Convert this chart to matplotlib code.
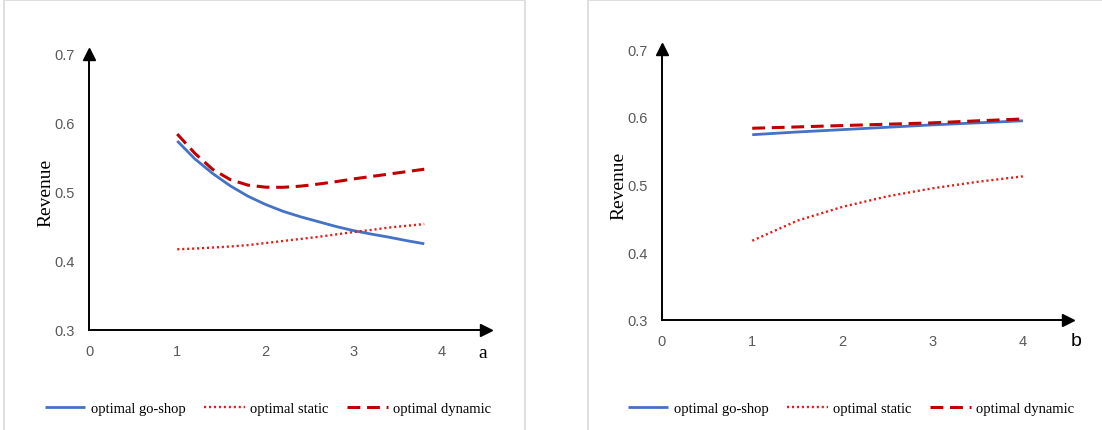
import matplotlib
matplotlib.use("Agg")
import matplotlib.pyplot as plt
from matplotlib.patches import Rectangle

# ---- data ----
a_vals = [1.0, 1.2, 1.4, 1.6, 1.8, 2.0, 2.2, 2.4, 2.6, 2.8, 3.0, 3.2, 3.4, 3.6, 3.8]
a_goshop = [0.574, 0.548, 0.527, 0.509, 0.494, 0.482, 0.472, 0.464, 0.457, 0.450,
            0.444, 0.439, 0.4345, 0.4295, 0.425]
a_static = [0.417, 0.418, 0.4195, 0.421, 0.423, 0.426, 0.429, 0.432, 0.435, 0.4385,
            0.442, 0.445, 0.4485, 0.451, 0.4535]
a_dynamic = [0.584, 0.556, 0.533, 0.518, 0.510, 0.507, 0.5068, 0.5085, 0.5115, 0.515,
             0.519, 0.5225, 0.526, 0.5295, 0.533]

b_vals = [1.0, 1.5, 2.0, 2.5, 3.0, 3.5, 4.0]
b_goshop = [0.5735, 0.5775, 0.581, 0.5845, 0.588, 0.591, 0.594]
b_static = [0.417, 0.4466, 0.467, 0.4826, 0.4944, 0.504, 0.512]
b_dynamic = [0.583, 0.585, 0.587, 0.589, 0.591, 0.594, 0.5967]

x_ticks = [0, 1, 2, 3, 4]
y_ticks = [0.3, 0.4, 0.5, 0.6, 0.7]
series_labels = ["optimal go-shop", "optimal static", "optimal dynamic"]

W, H = 1102, 431
fig = plt.figure(figsize=(W / 100, H / 100), dpi=100)
fig.patch.set_facecolor("white")

# panel borders
fig.add_artist(Rectangle((4 / W, -0.01), (525 - 4) / W, 1.01 - 0.5 / H,
                         transform=fig.transFigure, fill=False,
                         edgecolor="#d9d9d9", linewidth=1.2))
fig.add_artist(Rectangle((588 / W, -0.01), (1120 - 588) / W, 1.01 - 0.5 / H,
                         transform=fig.transFigure, fill=False,
                         edgecolor="#d9d9d9", linewidth=1.2))

BLUE = "#4472C4"
RED = "#C00000"
DOT = "#E0201B"

def make_panel(rect, x, g, s, d, xlabel, xlabel_font, xlab_pos, leg_center):
    ax = fig.add_axes(rect)
    ax.plot(x, g, color=BLUE, lw=2.0, solid_capstyle="butt", label=series_labels[0])
    ax.plot(x, s, color=DOT, lw=1.7, linestyle=(0, (0.9, 1.2)), label=series_labels[1])
    ax.plot(x, d, color=RED, lw=2.2, linestyle=(0, (4.2, 2.2)), label=series_labels[2])
    ax.set_xlim(0, 4.5)
    ax.set_ylim(0.3, 0.7)
    ax.set_xticks(x_ticks)
    ax.set_yticks(y_ticks)
    ax.set_xticklabels([str(t) for t in x_ticks])
    ax.set_yticklabels([f"{t:.1f}" for t in y_ticks])
    ax.tick_params(length=0, labelsize=10.5, labelcolor="#595959", pad=10)
    ax.tick_params(axis="y", pad=10)
    for lab in ax.get_xticklabels() + ax.get_yticklabels():
        lab.set_family("Liberation Sans")
    for sp in ("top", "right"):
        ax.spines[sp].set_visible(False)
    for sp in ("left", "bottom"):
        ax.spines[sp].set_linewidth(1.4)
        ax.spines[sp].set_color("black")
    ax.patch.set_alpha(0)
    # arrow heads
    ax.plot(1, 0, ">", color="black", ms=8, transform=ax.transAxes, clip_on=False)
    ax.plot(0, 1, "^", color="black", ms=8, transform=ax.transAxes, clip_on=False)
    ax.set_ylabel("Revenue", family="Liberation Serif", fontsize=14, labelpad=0)
    fig.text(xlab_pos[0] / W, 1 - xlab_pos[1] / H, xlabel, family=xlabel_font,
             fontsize=14, ha="center", va="center")
    fig.legend(handles=ax.get_lines()[:3], labels=series_labels, loc="center",
               bbox_to_anchor=(leg_center / W, 1 - 409 / H), ncol=3, frameon=False,
               prop={"family": "Liberation Serif", "size": 10.5}, handlelength=2.8,
               columnspacing=1.3, handletextpad=0.35)
    return ax

ax1 = make_panel([89 / W, 100 / H, 397 / W, 276 / H], a_vals, a_goshop, a_static, a_dynamic,
                 "a", "Liberation Serif", (483, 353), 268)
ax2 = make_panel([662 / W, 110 / H, 406 / W, 271 / H], b_vals, b_goshop, b_static, b_dynamic,
                 "b", "Liberation Sans", (1076, 342), 851)

fig.savefig("out.png", dpi=100)
